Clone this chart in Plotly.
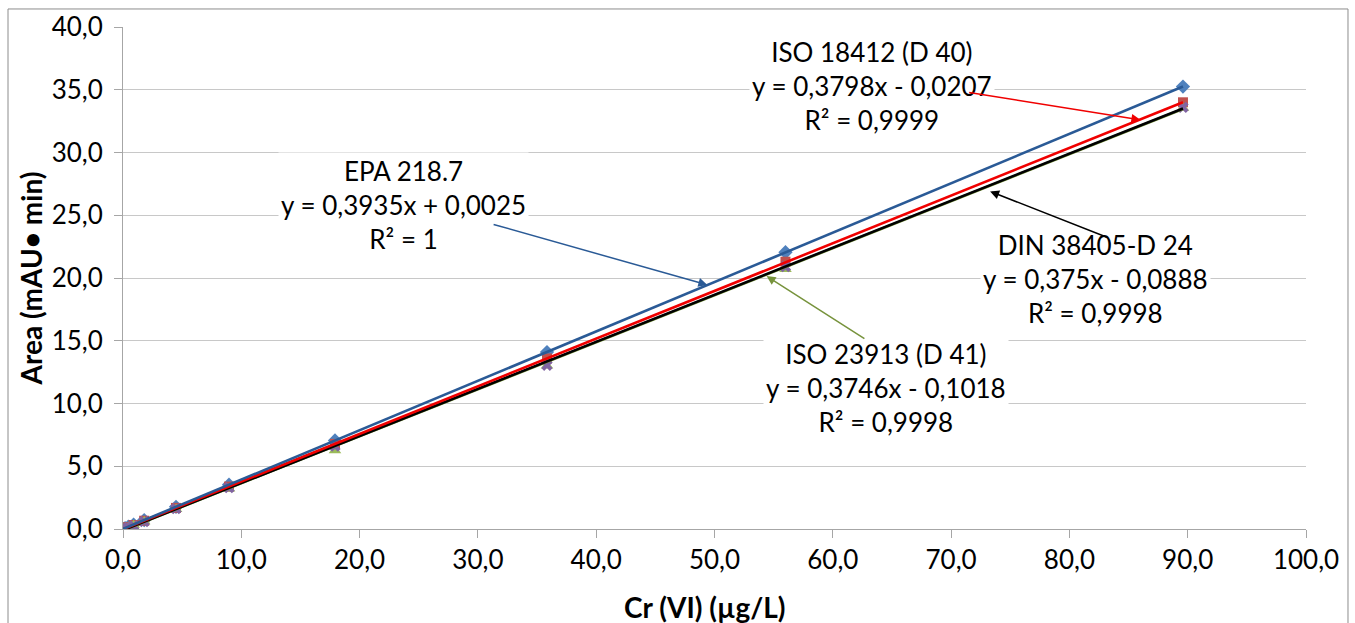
import plotly.graph_objects as go

# ---- data ----
conc = [0.0, 0.179, 0.448, 0.896, 1.79, 4.48, 8.96, 17.92, 35.84, 56.0, 89.6]
epa_218_7 = [0.0, 0.07, 0.18, 0.35, 0.71, 1.77, 3.53, 7.05, 14.10, 22.05, 35.25]
iso_18412 = [0.0, 0.05, 0.15, 0.32, 0.66, 1.68, 3.38, 6.78, 13.59, 21.30, 34.00]
iso_23913 = [0.0, 0.04, 0.12, 0.29, 0.60, 1.58, 3.20, 6.25, 13.00, 20.70, 33.55]
din_38405 = [0.0, 0.06, 0.10, 0.26, 0.60, 1.62, 3.30, 6.60, 13.05, 20.90, 33.60]

series_names = ["EPA 218.7", "ISO 18412 (D 40)", "ISO 23913 (D 41)", "DIN 38405-D 24"]
slopes = [0.3935, 0.3798, 0.3746, 0.375]
intercepts = [0.0025, -0.0207, -0.1018, -0.0888]
eq_labels = [
    "EPA 218.7<br>y = 0,3935x + 0,0025<br>R² = 1",
    "ISO 18412 (D 40)<br>y = 0,3798x - 0,0207<br>R² = 0,9999",
    "ISO 23913 (D 41)<br>y = 0,3746x - 0,1018<br>R² = 0,9998",
    "DIN 38405-D 24<br>y = 0,375x - 0,0888<br>R² = 0,9998",
]
x_ticks = [0, 10, 20, 30, 40, 50, 60, 70, 80, 90, 100]
x_ticktext = ["0,0", "10,0", "20,0", "30,0", "40,0", "50,0", "60,0", "70,0", "80,0", "90,0", "100,0"]
y_ticks = [0, 5, 10, 15, 20, 25, 30, 35, 40]
y_ticktext = ["0,0", "5,0", "10,0", "15,0", "20,0", "25,0", "30,0", "35,0", "40,0"]
x_title = "<b>Cr (VI) (µg/L)</b>"
y_title = "<b>Area (mAU• min)</b>"

FONT = "Lato, 'Open Sans', sans-serif"
marker_styles = [
    dict(symbol="diamond", color="#4F81BD", size=11),
    dict(symbol="square", color="#C0504D", size=10),
    dict(symbol="triangle-up", color="#9BBB59", size=11),
    dict(symbol="x", color="#8064A2", size=10),
]
line_colors = ["#2A5A96", "#F00000", "#77933C", "#000000"]
values = [epa_218_7, iso_18412, iso_23913, din_38405]

fig = go.Figure()
for name, vals, ms in zip(series_names, values, marker_styles):
    fig.add_trace(go.Scatter(x=conc, y=vals, mode="markers", name=name,
                             marker=dict(symbol=ms["symbol"], color=ms["color"], size=ms["size"],
                                         line=dict(width=0))))

# trendlines (drawn over markers): order green, black, red, blue
xmin, xmax = min(conc), max(conc)
for i in [2, 3, 1, 0]:
    fig.add_trace(go.Scatter(
        x=[xmin, xmax],
        y=[slopes[i] * xmin + intercepts[i], slopes[i] * xmax + intercepts[i]],
        mode="lines", line=dict(color=line_colors[i], width=2.6), showlegend=False,
        hoverinfo="skip"))

# label text boxes
label_pos = [(23.7, 25.85), (63.3, 35.3), (64.5, 11.2), (82.2, 19.9)]
for txt, (lx, ly) in zip(eq_labels, label_pos):
    fig.add_annotation(x=lx, y=ly, xref="x", yref="y", text=txt, showarrow=False,
                       font=dict(family=FONT, size=26, color="#000000"),
                       align="center", bgcolor="white", borderpad=2)

# arrows: (tail x, tail y, head x, head y, color)
arrows = [
    (31.2, 24.3, 49.4, 19.45, "#2A5A96"),
    (71.4, 34.8, 86.0, 32.6, "#F00000"),
    (62.8, 15.1, 54.4, 20.15, "#77933C"),
    (83.3, 23.2, 73.3, 26.9, "#000000"),
]
for tx, ty, hx, hy, c in arrows:
    fig.add_annotation(x=hx, y=hy, ax=tx, ay=ty, xref="x", yref="y", axref="x", ayref="y",
                       text="", showarrow=True, arrowhead=2, arrowsize=1.2, arrowwidth=1.5,
                       arrowcolor=c, standoff=0)

# x axis title as annotation (fixed position)
fig.add_annotation(x=0.492, y=-0.155, xref="paper", yref="paper", text=x_title,
                   showarrow=False, font=dict(family=FONT, size=28, color="#000000"),
                   xanchor="center", yanchor="middle")

# outer chart frame
fig.add_shape(type="rect", xref="paper", yref="paper", x0=-0.0972, x1=1.0355, y0=-0.3, y1=1.0359,
              line=dict(color="#8C8C8C", width=1), fillcolor="rgba(0,0,0,0)", layer="below")

fig.update_layout(
    width=1355, height=623,
    margin=dict(l=123, r=49, t=27, b=94),
    paper_bgcolor="white", plot_bgcolor="white",
    showlegend=False,
    font=dict(family=FONT, size=26, color="#000000"),
    xaxis=dict(range=[0, 100], tickvals=x_ticks, ticktext=x_ticktext, showgrid=False,
               showline=True, linecolor="#A6A6A6", linewidth=1, ticks="outside", ticklen=8,
               tickcolor="#A6A6A6", zeroline=False, ticklabelstandoff=0, automargin=False,
               tickfont=dict(family=FONT, size=26)),
    yaxis=dict(range=[0, 40], tickvals=y_ticks, ticktext=y_ticktext, showgrid=True,
               gridcolor="#C8C8C8", gridwidth=1, showline=True, linecolor="#A6A6A6", linewidth=1,
               ticks="outside", ticklen=8, tickcolor="#A6A6A6", zeroline=False,
               ticklabelstandoff=6, tickfont=dict(family=FONT, size=26), automargin=False,
               title=dict(text=y_title, font=dict(family=FONT, size=28), standoff=0)),
)

fig.write_html("out.html")
